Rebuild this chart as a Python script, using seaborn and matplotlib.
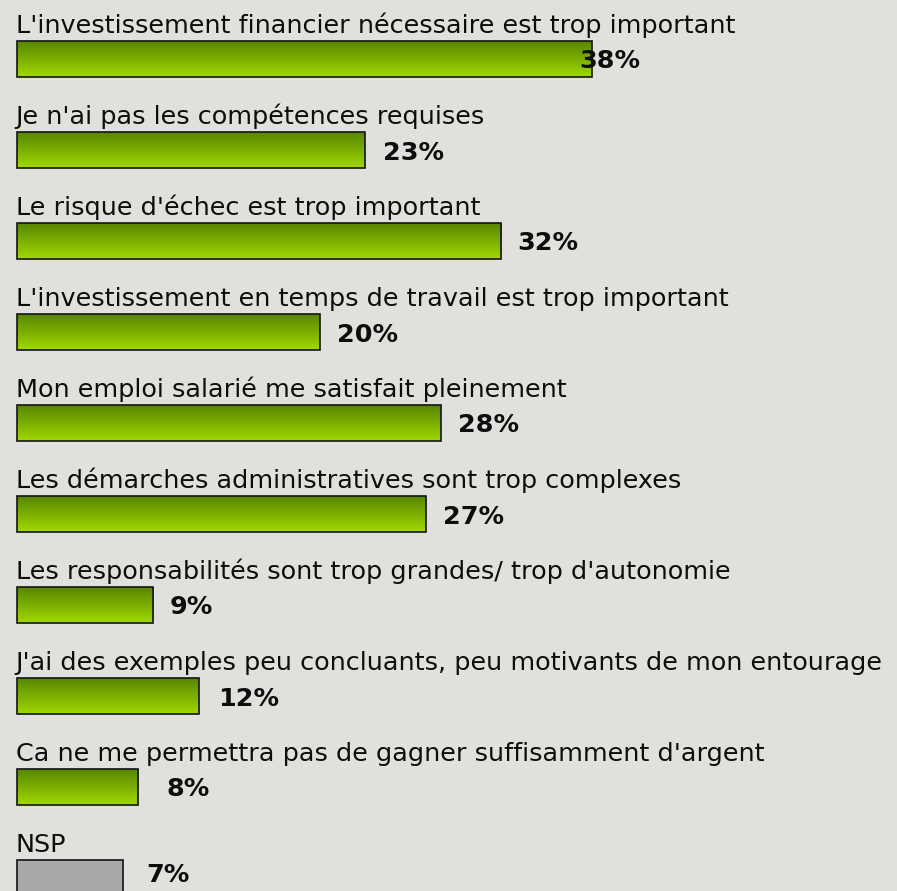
import numpy as np
import matplotlib
matplotlib.use("Agg")
import matplotlib.pyplot as plt
from matplotlib.colors import to_rgb
import seaborn as sns

categories = [
    "L'investissement financier nécessaire est trop important",
    "Je n'ai pas les compétences requises",
    "Le risque d'échec est trop important",
    "L'investissement en temps de travail est trop important",
    "Mon emploi salarié me satisfait pleinement",
    "Les démarches administratives sont trop complexes",
    "Les responsabilités sont trop grandes/ trop d'autonomie",
    "J'ai des exemples peu concluants, peu motivants de mon entourage",
    "Ca ne me permettra pas de gagner suffisamment d'argent",
    "NSP",
]
values = [38, 23, 32, 20, 28, 27, 9, 12, 8, 7]
value_labels = ["38%", "23%", "32%", "20%", "28%", "27%", "9%", "12%", "8%", "7%"]

# décalages (px) des étiquettes % : horizontal depuis le bout de la barre, vertical
label_shift_px = [-13, 18, 16, 17, 17, 17, 16, 20, 28, 23]
label_dy_px = [0, 0, 0, 0, 0, 0, 0, 0, 0, -6]

bg = "#e0e0dc"
green_top = "#588600"
green_bottom = "#a0d800"
grey = "#a9a9a9"

W, H = 897, 891
px_per_pct = 15.13
x0_px = 17
row_px = 91
center0_px = 59
bar_h = 36 / row_px

sns.set_theme(style="white")
plt.rcParams["font.family"] = ["DejaVu Sans"]

fig = plt.figure(figsize=(W / 100, H / 100), dpi=100, facecolor=bg)
ax = fig.add_axes([0, 0, 1, 1])
ax.set_facecolor(bg)

palette = ["#7fb000"] * (len(categories) - 1) + [grey]
sns.barplot(x=values, y=categories, hue=categories, palette=palette, legend=False,
            orient="h", width=bar_h, edgecolor="#151515", linewidth=1.2,
            saturation=1, ax=ax)

xlim = (-x0_px / px_per_pct, (W - x0_px) / px_per_pct)
ylim = ((H - center0_px) / row_px, -center0_px / row_px)

# dégradé vert sur les barres
grad = np.linspace(0, 1, 64)[:, None, None]
c_top = np.array(to_rgb(green_top))
c_bot = np.array(to_rgb(green_bottom))
img = c_top * (1 - grad) + c_bot * grad
for i, cont in enumerate(ax.containers):
    if categories[i] == "NSP":
        continue
    for p in cont.patches:
        x, y, w, h = p.get_x(), p.get_y(), p.get_width(), p.get_height()
        im = ax.imshow(img, extent=(x, x + w, y + h, y), aspect="auto",
                       origin="upper", zorder=p.get_zorder() - 0.1,
                       interpolation="bilinear")
        im.set_clip_path(p)
        p.set_facecolor("none")

ax.set_xlim(*xlim)
ax.set_ylim(*ylim)
ax.set_axis_off()

fs = 18.35
for i, (cat, v, lab, sh, dy) in enumerate(zip(categories, values, value_labels,
                                             label_shift_px, label_dy_px)):
    # libellé au-dessus de la barre
    ax.text(-1.5 / px_per_pct, i - bar_h / 2 - 8 / row_px, cat, fontsize=fs,
            color="#0d0d0d", va="baseline", ha="left")
    # valeur en gras à droite
    ax.text(v + sh / px_per_pct, i + (9.5 + dy) / row_px, lab, fontsize=fs,
            fontweight="bold", color="#0d0d0d", va="baseline", ha="left")

fig.savefig("out.png", dpi=100, facecolor=bg)
